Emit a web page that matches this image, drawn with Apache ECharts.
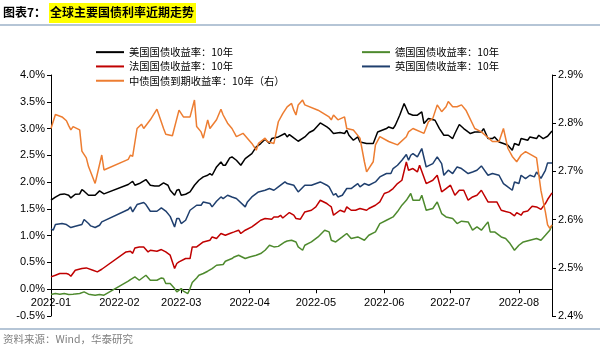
<!DOCTYPE html>
<html>
<head>
<meta charset="utf-8">
<script src="https://cdn.jsdelivr.net/npm/echarts@6/dist/echarts.min.js"></script>
<style>
html,body{margin:0;padding:0;background:#fff;}
#c{width:600px;height:348px;}
</style>
</head>
<body>
<div id="c"></div>
<script>
// ---------- data ----------
const seriesNames = ['美国国债收益率：10年','德国国债收益率：10年','法国国债收益率：10年','英国国债收益率：10年','中债国债到期收益率：10年（右）'];
const xTickLabels = ['2022-01','2022-02','2022-03','2022-04','2022-05','2022-06','2022-07','2022-08'];
const leftTicks = ['-0.5%','0.0%','0.5%','1.0%','1.5%','2.0%','2.5%','3.0%','3.5%','4.0%'];
const rightTicks = ['2.4%','2.5%','2.6%','2.7%','2.8%','2.9%'];

const usDates = ['01-01','01-03','01-05','01-07','01-09','01-10','01-12','01-14','01-15','01-16','01-18','01-21','01-23','01-25','02-05','02-07','02-08','02-10','02-13','02-15','02-17','02-19','02-21','02-23','02-24','02-26','02-27','02-28','03-01','03-03','03-05','03-07','03-09','03-11','03-13','03-14','03-15','03-17','03-19','03-20','03-21','03-23','03-24','03-26','03-28','03-30','04-02','04-04','04-06','04-08','04-10','04-11','04-14','04-17','04-18','04-19','04-21','04-23','04-26','04-28','04-30','05-03','05-06','05-07','05-09','05-12','05-14','05-15','05-16','05-18','05-20','05-21','05-24','05-27','05-29','06-02','06-03','06-05','06-06','06-08','06-10','06-11','06-12','06-14','06-16','06-18','06-19','06-21','06-24','06-26','06-28','06-30','07-02','07-03','07-05','07-07','07-09','07-10','07-12','07-15','07-16','07-18','07-20','07-21','07-23','07-25','07-27','07-29','07-30','08-01','08-02','08-05','08-06','08-09','08-10','08-12','08-14','08-16'];
const usValues = [1.662,1.72,1.768,1.78,1.755,1.705,1.774,1.78,1.861,1.83,1.755,1.755,1.836,1.78,1.955,2.016,1.942,1.973,2.048,1.942,1.929,1.929,1.985,1.942,1.848,1.755,1.848,1.861,1.755,1.774,1.817,1.942,2.035,2.097,2.128,2.16,2.128,2.283,2.377,2.315,2.315,2.452,2.47,2.408,2.315,2.44,2.533,2.657,2.72,2.8,2.72,2.813,2.844,2.907,2.844,2.888,2.825,2.763,2.844,2.926,2.969,3.105,3.03,3.0,2.907,2.926,2.907,2.969,2.875,2.782,2.844,2.75,2.72,2.72,2.937,3.0,3.03,3.0,3.062,3.249,3.467,3.374,3.28,3.249,3.249,3.311,3.094,3.187,3.155,3.0,2.875,2.875,2.813,2.907,3.075,3.0,2.937,2.907,2.937,2.937,3.0,2.813,2.813,2.844,2.75,2.72,2.689,2.595,2.72,2.689,2.813,2.782,2.844,2.813,2.875,2.813,2.856,2.956];

const deDates = ['01-01','01-03','01-05','01-07','01-09','01-11','01-12','01-14','01-16','01-18','01-21','01-23','01-25','02-05','02-06','02-08','02-10','02-13','02-15','02-18','02-20','02-21','02-22','02-24','02-26','02-27','03-01','03-02','03-04','03-05','03-06','03-08','03-09','03-11','03-13','03-15','03-17','03-20','03-21','03-24','03-25','03-27','03-30','04-01','04-04','04-06','04-08','04-10','04-12','04-14','04-17','04-18','04-20','04-22','04-23','04-25','04-26','04-29','05-02','05-05','05-07','05-08','05-10','05-13','05-15','05-17','05-20','05-23','05-25','05-28','05-30','06-02','06-05','06-07','06-09','06-11','06-13','06-14','06-17','06-18','06-20','06-23','06-25','06-27','06-29','07-02','07-04','07-06','07-09','07-11','07-13','07-15','07-18','07-19','07-21','07-24','07-26','07-28','07-30','08-01','08-03','08-06','08-09','08-11','08-13','08-15','08-16'];
const deValues = [-0.099,-0.081,-0.093,-0.081,-0.099,-0.093,-0.087,-0.081,-0.05,-0.093,-0.112,-0.099,-0.112,0.15,0.181,0.23,0.168,0.261,0.168,0.168,0.211,0.199,0.106,0.106,0.012,-0.05,0.012,-0.037,-0.081,0.012,0.124,0.211,0.261,0.293,0.336,0.386,0.448,0.461,0.523,0.573,0.603,0.635,0.573,0.603,0.635,0.666,0.728,0.821,0.79,0.8,0.883,0.9,0.915,0.883,0.79,0.728,0.821,0.883,0.976,1.102,1.07,0.915,0.883,0.976,1.04,0.946,0.976,0.915,1.008,1.07,1.226,1.288,1.35,1.45,1.57,1.66,1.787,1.662,1.662,1.755,1.475,1.507,1.63,1.413,1.35,1.32,1.226,1.27,1.257,1.102,1.163,1.102,1.257,1.07,1.07,0.976,0.946,0.853,0.728,0.821,0.883,0.915,0.946,0.915,1.008,1.102,1.195];

const frDates = ['01-01','01-03','01-05','01-08','01-09','01-10','01-12','01-15','01-17','01-20','01-22','01-24','02-04','02-06','02-07','02-08','02-10','02-12','02-14','02-15','02-18','02-20','02-22','02-24','02-26','02-27','02-28','03-03','03-05','03-06','03-08','03-11','03-14','03-15','03-17','03-19','03-21','03-23','03-25','03-27','03-28','03-30','04-02','04-04','04-06','04-08','04-11','04-12','04-14','04-15','04-16','04-19','04-21','04-22','04-24','04-26','04-29','05-01','05-03','05-06','05-07','05-08','05-09','05-12','05-14','05-15','05-17','05-19','05-21','05-24','05-25','05-28','05-30','06-01','06-03','06-05','06-07','06-09','06-11','06-12','06-14','06-16','06-17','06-20','06-23','06-25','06-27','06-29','07-01','07-03','07-05','07-07','07-09','07-11','07-13','07-15','07-18','07-22','07-24','07-26','07-28','07-30','07-31','08-02','08-03','08-05','08-07','08-09','08-11','08-13','08-14','08-16'];
const frValues = [0.23,0.261,0.293,0.293,0.28,0.243,0.355,0.386,0.398,0.355,0.323,0.373,0.696,0.709,0.67,0.771,0.79,0.79,0.696,0.728,0.709,0.741,0.696,0.635,0.386,0.48,0.51,0.573,0.573,0.79,0.79,0.883,0.915,0.976,0.946,1.04,1.008,1.04,1.07,1.102,1.04,1.102,1.163,1.226,1.288,1.32,1.307,1.35,1.35,1.38,1.33,1.432,1.382,1.32,1.307,1.443,1.475,1.537,1.662,1.6,1.568,1.537,1.382,1.475,1.443,1.537,1.475,1.475,1.507,1.475,1.507,1.568,1.63,1.787,1.817,1.88,1.973,2.035,2.377,2.222,2.253,2.19,2.315,1.973,2.035,2.128,1.817,1.88,1.942,1.755,1.848,1.848,1.662,1.723,1.755,1.848,1.63,1.63,1.475,1.45,1.43,1.37,1.43,1.382,1.443,1.46,1.55,1.537,1.49,1.6,1.675,1.798];

const ukDates = ['01-01','01-02','01-03','01-06','01-08','01-10','01-12','01-15','01-16','01-18','01-19','01-21','01-23','01-24','02-05','02-06','02-07','02-09','02-12','02-13','02-15','02-18','02-20','02-22','02-24','02-26','02-27','02-28','03-01','03-03','03-05','03-08','03-10','03-11','03-14','03-15','03-17','03-19','03-20','03-22','03-24','03-26','03-30','03-31','04-02','04-05','04-08','04-10','04-12','04-14','04-17','04-18','04-21','04-23','04-26','04-29','05-03','05-06','05-07','05-09','05-10','05-11','05-13','05-15','05-17','05-18','05-20','05-21','05-23','05-25','05-28','05-30','06-02','06-04','06-05','06-07','06-09','06-11','06-12','06-13','06-14','06-16','06-18','06-20','06-23','06-25','06-27','06-28','06-30','07-02','07-04','07-06','07-09','07-11','07-13','07-15','07-18','07-20','07-23','07-25','07-27','07-29','07-30','08-01','08-02','08-04','08-06','08-08','08-09','08-11','08-13','08-14','08-16'];
const ukValues = [1.133,1.101,1.208,1.226,1.208,1.152,1.176,1.208,1.301,1.226,1.182,1.152,1.195,1.257,1.488,1.537,1.443,1.581,1.619,1.581,1.456,1.456,1.518,1.46,1.36,1.163,1.32,1.32,1.226,1.288,1.475,1.568,1.568,1.63,1.6,1.537,1.643,1.723,1.693,1.755,1.723,1.693,1.537,1.63,1.723,1.817,1.848,1.88,1.848,1.91,2.003,1.973,1.942,1.817,1.942,1.942,2.003,1.942,1.91,1.755,1.787,1.723,1.755,1.88,1.88,1.91,1.973,1.91,1.973,1.942,2.003,2.097,2.16,2.16,2.253,2.315,2.408,2.514,2.408,2.502,2.533,2.47,2.627,2.283,2.346,2.47,2.346,2.128,2.222,2.16,2.283,2.253,2.16,2.19,2.222,2.302,2.128,2.16,2.128,1.973,1.91,1.848,2.003,1.973,2.128,2.066,2.128,2.097,2.19,2.07,2.22,2.359,2.359];

const cnDates = ['01-01','01-03','01-06','01-08','01-09','01-10','01-11','01-14','01-15','01-17','01-18','01-21','01-24','01-25','02-05','02-06','02-07','02-09','02-11','02-12','02-15','02-18','02-21','02-22','02-25','02-28','03-02','03-05','03-07','03-08','03-10','03-11','03-13','03-14','03-17','03-19','03-20','03-22','03-24','03-26','03-29','04-02','04-04','04-05','04-08','04-09','04-12','04-14','04-16','04-18','04-20','04-21','04-22','04-23','04-25','04-26','05-02','05-07','05-08','05-09','05-11','05-14','05-15','05-18','05-21','05-23','05-24','05-27','05-28','05-30','06-03','06-07','06-11','06-12','06-14','06-19','06-21','06-23','06-25','06-27','06-29','06-30','07-02','07-04','07-06','07-08','07-12','07-15','07-20','07-23','07-25','07-27','07-29','07-31','08-02','08-04','08-09','08-11','08-13','08-14','08-15','08-16'];
const cnValues = [2.789,2.818,2.813,2.805,2.795,2.786,2.793,2.786,2.742,2.728,2.71,2.675,2.734,2.703,2.725,2.734,2.731,2.789,2.798,2.789,2.807,2.829,2.789,2.777,2.774,2.827,2.813,2.813,2.848,2.793,2.782,2.769,2.807,2.789,2.807,2.829,2.817,2.8,2.789,2.772,2.779,2.758,2.744,2.758,2.769,2.762,2.758,2.803,2.82,2.834,2.841,2.827,2.817,2.838,2.848,2.838,2.827,2.813,2.807,2.817,2.807,2.813,2.789,2.786,2.769,2.72,2.699,2.72,2.755,2.772,2.762,2.755,2.772,2.782,2.789,2.779,2.803,2.81,2.838,2.824,2.834,2.845,2.834,2.834,2.838,2.827,2.789,2.782,2.762,2.762,2.789,2.748,2.731,2.72,2.734,2.741,2.728,2.66,2.616,2.589,2.582,2.589];

const year = '2022';
const axisStart = '2022-01-01';
const axisEnd = '2022-08-16';
// ---------------------------------------------------

function pairs(dates, values) {
  return dates.map((d, i) => [year + '-' + d, values[i]]);
}

const colors = ['#000000', '#4E8A2E', '#C00000', '#1F3F6E', '#ED7D31'];
const latin = '"Liberation Sans", Arial, sans-serif';
const cjk = '"Noto Sans CJK SC", sans-serif';

const chart = echarts.init(document.getElementById('c'), null, {renderer: 'canvas'});

const series = [
  {name: seriesNames[0], data: pairs(usDates, usValues), yAxisIndex: 0},
  {name: seriesNames[1], data: pairs(deDates, deValues), yAxisIndex: 0},
  {name: seriesNames[2], data: pairs(frDates, frValues), yAxisIndex: 0},
  {name: seriesNames[3], data: pairs(ukDates, ukValues), yAxisIndex: 0},
  {name: seriesNames[4], data: pairs(cnDates, cnValues), yAxisIndex: 1}
].map((s, i) => Object.assign({
  type: 'line',
  symbol: 'none',
  smooth: false,
  lineStyle: {width: 1.5, color: colors[i]},
  itemStyle: {color: colors[i]},
  animation: false
}, s));

const legendCommon = {
  orient: 'vertical',
  icon: 'rect',
  itemWidth: 28,
  itemHeight: 2,
  itemGap: 4,
  textStyle: {fontSize: 10.3, color: '#000', fontFamily: cjk},
  selectedMode: false
};

chart.setOption({
  animation: false,
  color: colors,
  grid: {left: 51, right: 48, top: 75, bottom: 32, containLabel: false},
  legend: [
    Object.assign({left: 91, top: 42, data: [seriesNames[0], seriesNames[2], seriesNames[4]]}, legendCommon),
    Object.assign({left: 357, top: 42, data: [seriesNames[1], seriesNames[3]]}, legendCommon)
  ],
  graphic: [
    {type: 'text', left: 3, top: 6, style: {text: '图表7：', font: 'bold 12px ' + cjk, fill: '#000'}},
    {type: 'rect', shape: {x: 49, y: 3, width: 147, height: 20}, style: {fill: '#FFFF00'}},
    {type: 'text', left: 50, top: 6, style: {text: '全球主要国债利率近期走势', font: 'bold 12px ' + cjk, fill: '#000'}},
    {type: 'line', shape: {x1: 0, y1: 25, x2: 600, y2: 25}, style: {stroke: '#9DB2C8', lineWidth: 1.5}},
    {type: 'line', shape: {x1: 0, y1: 329, x2: 600, y2: 329}, style: {stroke: '#9DB2C8', lineWidth: 1.5}},
    {type: 'text', left: 3, top: 334, style: {text: '资料来源：Wind，华泰研究', font: '10.5px ' + cjk, fill: '#7F7F7F'}}
  ],
  xAxis: {
    type: 'time',
    min: axisStart,
    max: axisEnd,
    minInterval: 28 * 86400000,
    maxInterval: 31 * 86400000,
    splitLine: {show: false},
    axisLine: {show: true, onZero: true, onZeroAxisIndex: 0, lineStyle: {color: '#000', width: 1}},
    axisTick: {show: true, length: 4, lineStyle: {color: '#000'}},
    axisLabel: {
      fontSize: 11, color: '#000', fontFamily: latin, margin: -19,
      showMaxLabel: false,
      formatter: function (v) {
        const d = new Date(v);
        return xTickLabels[d.getMonth()] || '';
      }
    }
  },
  yAxis: [
    {
      type: 'value', min: -0.5, max: 4.0, interval: 0.5, position: 'left',
      splitLine: {show: false},
      axisLine: {show: true, lineStyle: {color: '#000'}},
      axisTick: {show: true, length: 4, lineStyle: {color: '#000'}},
      axisLabel: {fontSize: 11, color: '#000', fontFamily: latin, margin: 6,
        formatter: function (v) { return leftTicks[Math.round((v + 0.5) / 0.5)]; }}
    },
    {
      type: 'value', min: 2.4, max: 2.9, interval: 0.1, position: 'right',
      splitLine: {show: false},
      axisLine: {show: true, lineStyle: {color: '#000'}},
      axisTick: {show: true, length: 4, lineStyle: {color: '#000'}},
      axisLabel: {fontSize: 11, color: '#000', fontFamily: latin, margin: 6,
        formatter: function (v) { return rightTicks[Math.round((v - 2.4) / 0.1)]; }}
    }
  ],
  series: series
});
</script>
</body>
</html>
